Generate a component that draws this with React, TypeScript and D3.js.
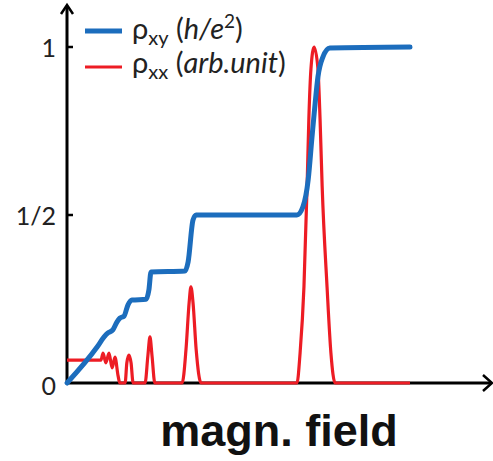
import React from "react";
import * as d3 from "d3";

// field in arbitrary units, values as fractions
const rhoXyField = [0, 0.86, 1.06, 1.17, 1.31, 1.43, 1.51, 1.63, 1.74, 1.86, 2.26, 2.34, 2.4, 3.37, 3.46, 3.6, 3.69, 6.57, 6.74, 6.89, 7.0, 7.09, 7.17, 7.31, 7.51, 9.8];
const rhoXyValue = [0, 0.107, 0.137, 0.149, 0.158, 0.182, 0.193, 0.199, 0.232, 0.247, 0.249, 0.277, 0.33, 0.333, 0.36, 0.485, 0.5, 0.5, 0.524, 0.604, 0.732, 0.833, 0.911, 0.97, 0.997, 1.0];

const rhoXxField = [0, 0.97, 1.03, 1.11, 1.2, 1.29, 1.37, 1.46, 1.51, 1.66, 1.71, 1.77, 1.83, 1.89, 2.23, 2.31, 2.37, 2.43, 2.51, 3.29, 3.4, 3.49, 3.54, 3.6, 3.69, 3.83, 6.57, 6.66, 6.77, 6.86, 6.91, 6.97, 7.06, 7.17, 7.23, 7.29, 7.43, 7.54, 7.66, 9.8];
const rhoXxValue = [0.068, 0.068, 0.089, 0.06, 0.089, 0.045, 0.077, 0.021, 0, 0, 0.06, 0.083, 0.06, 0, 0, 0.08, 0.137, 0.08, 0, 0, 0.1, 0.24, 0.286, 0.24, 0.1, 0, 0, 0.09, 0.286, 0.586, 0.786, 0.935, 1.0, 0.935, 0.786, 0.586, 0.286, 0.09, 0, 0];

const yTicks = [0, 0.5, 1];
const yTickLabels = ["0", "1/2", "1"];

const BLUE = "#1c6dbd";
const RED = "#ed1c24";

export default function App() {
  const width = 493;
  const height = 461;

  const x = d3.scaleLinear().domain([0, 12]).range([67, 487]);
  const y = d3.scaleLinear().domain([0, 1]).range([383, 47]);

  const line = d3
    .line<[number, number]>()
    .x((d) => x(d[0]))
    .y((d) => y(d[1]))
    .curve(d3.curveMonotoneX);

  const xyPts = rhoXyField.map((f, i) => [f, rhoXyValue[i]] as [number, number]);
  const xxPts = rhoXxField.map((f, i) => [f, rhoXxValue[i]] as [number, number]);

  const x0 = x(0);
  const y0 = y(0);

  return (
    <svg width={width} height={height} style={{ position: "absolute", left: 0, top: 0, background: "#fff" }}>
      {/* axes */}
      <g stroke="#000" strokeWidth={3} fill="none">
        <line x1={x0} y1={y0} x2={x0} y2={6} />
        <line x1={x0} y1={y0} x2={491} y2={y0} />
        <path d={`M${x0 - 6},14 L${x0},5 L${x0 + 6},14`} strokeWidth={2.5} />
        <path d={`M483,${y0 - 8} L492,${y0} L483,${y0 + 8}`} strokeWidth={2.5} />
        {yTicks.filter((t) => t > 0).map((t) => (
          <line key={t} x1={x0} x2={x0 + 6} y1={y(t)} y2={y(t)} strokeWidth={2.5} />
        ))}
      </g>
      <g fontFamily="Lato, 'Open Sans', sans-serif" fontSize={25} fill="#222" textAnchor="end">
        {yTicks.map((t, i) => (
          <text key={t} x={56} y={y(t) + (t === 0 ? 12 : 10)}>
            {yTickLabels[i]}
          </text>
        ))}
      </g>

      {/* curves */}
      <path d={line(xxPts) || ""} fill="none" stroke={RED} strokeWidth={3.2} strokeLinejoin="round" />
      <path d={line(xyPts) || ""} fill="none" stroke={BLUE} strokeWidth={5} strokeLinejoin="round" strokeLinecap="round" />

      {/* legend */}
      <line x1={85} x2={122} y1={31} y2={31} stroke={BLUE} strokeWidth={5} />
      <line x1={85} x2={122} y1={67} y2={67} stroke={RED} strokeWidth={3} />
      <g fontFamily="Lato, 'Open Sans', sans-serif" fontSize={29} fill="#222">
        <text x={132} y={39}>
          ρ<tspan fontSize={20} dy={6}>xy</tspan>
          <tspan dy={-6}> (</tspan>
          <tspan fontStyle="italic">h/e</tspan>
          <tspan fontSize={19} dy={-11}>2</tspan>
          <tspan dy={11}>)</tspan>
        </text>
        <text x={132} y={73}>
          ρ<tspan fontSize={20} dy={6}>xx</tspan>
          <tspan dy={-6}> (</tspan>
          <tspan fontStyle="italic">arb.unit</tspan>
          <tspan>)</tspan>
        </text>
      </g>

      <text x={279} y={446} textAnchor="middle" fontFamily="'Liberation Sans', Arial, sans-serif" fontWeight="bold" fontSize={45} fill="#111">
        magn. field
      </text>
    </svg>
  );
}
